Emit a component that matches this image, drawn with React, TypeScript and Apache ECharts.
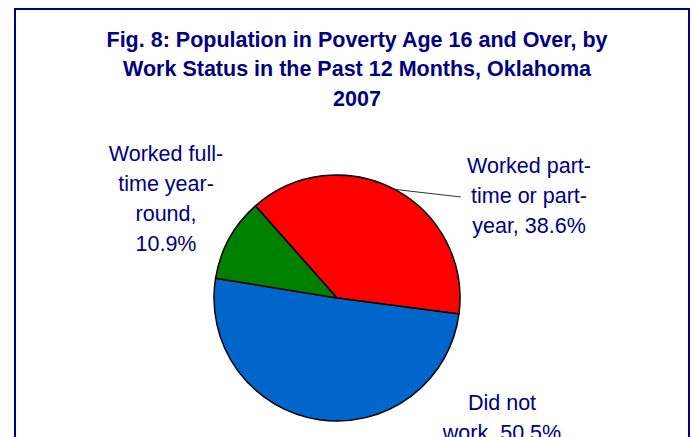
import React, { useEffect, useRef } from "react";
import * as echarts from "echarts";

const titleLines = [
  "Fig. 8: Population in Poverty Age 16 and Over, by",
  "Work Status in the Past 12 Months, Oklahoma",
  "2007",
];
const categories = [
  "Worked part-\ntime or part-\nyear",
  "Did not\nwork",
  "Worked full-\ntime year-\nround",
];
const values = [38.6, 50.5, 10.9];
const labelSeparators = [" ", " ", "\n"];
const colors = ["#FF0000", "#0066CC", "#008000"];
const labelCenters: number[][] = [
  [529, 196],
  [502, 418],
  [166, 199],
];
const leaderEnd = [461, 197];

export default function App() {
  const ref = useRef<HTMLDivElement>(null);
  useEffect(() => {
    if (!ref.current) return;
    const chart = echarts.init(ref.current, undefined, { renderer: "svg" });
    chart.setOption({
      animation: false,
      backgroundColor: "#FFFFFF",
      title: {
        text: titleLines.join("\n"),
        left: 352,
        top: 20,
        textAlign: "center",
        textStyle: {
          fontFamily: "Liberation Sans, Arial, sans-serif",
          fontWeight: "bold",
          fontSize: 21.5,
          lineHeight: 29.5,
          color: "#000080",
        },
      },
      graphic: [
        {
          type: "rect",
          shape: { x: 15, y: 9, width: 674, height: 470 },
          style: { fill: "none", stroke: "#000090", lineWidth: 2 },
          silent: true,
        },
      ],
      series: [
        {
          type: "pie",
          center: [337, 298],
          radius: 123,
          startAngle: 131.5,
          clockwise: true,
          itemStyle: { borderColor: "#000000", borderWidth: 1.5 },
          label: {
            show: true,
            position: "outside",
            formatter: (p: any) =>
              `${p.name},${labelSeparators[p.dataIndex]}${p.value}%`,
            fontFamily: "Liberation Sans, Arial, sans-serif",
            fontSize: 21.5,
            lineHeight: 30,
            color: "#000080",
            align: "center",
          },
          labelLine: {
            show: true,
            lineStyle: { color: "#333333", width: 1 },
          },
          labelLayout: (params: any) => {
            const c = labelCenters[params.dataIndex];
            const res: any = {
              x: c[0],
              y: c[1],
              align: "center",
              verticalAlign: "middle",
              moveOverlap: false,
            };
            if (params.dataIndex === 0 && params.labelLinePoints) {
              const p0 = params.labelLinePoints[0];
              res.labelLinePoints = [p0, leaderEnd, leaderEnd];
            }
            return res;
          },
          emphasis: { disabled: true },
          data: categories.map((name, i) => ({
            name,
            value: values[i],
            itemStyle: { color: colors[i] },
            labelLine: { show: i === 0 },
          })),
        },
      ],
    });
    return () => chart.dispose();
  }, []);
  return (
    <div
      ref={ref}
      style={{ position: "fixed", left: 0, top: 0, width: 695, height: 437 }}
    />
  );
}
